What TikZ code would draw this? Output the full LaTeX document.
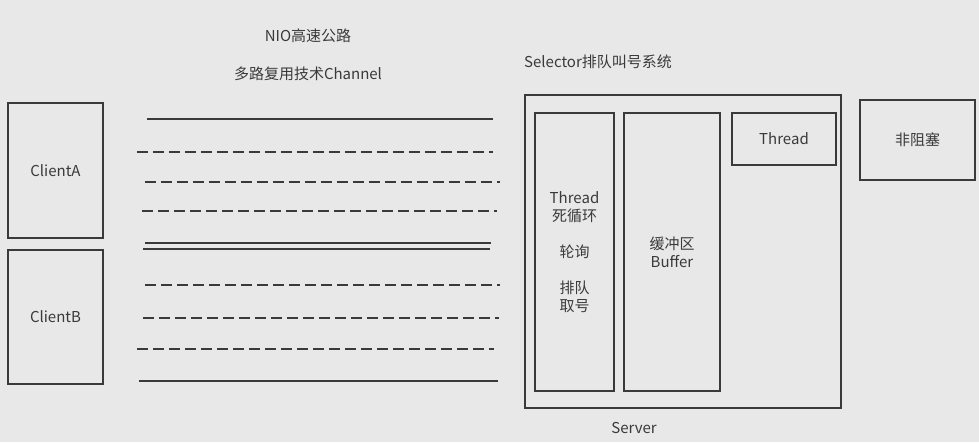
\documentclass[tikz,border=0pt]{standalone}
\usepackage{fontspec}
\setmainfont{Noto Sans CJK SC}
\usepackage{xcolor}
\usepackage{tikz}
\usetikzlibrary{positioning,calc}
\definecolor{bgGrey}{HTML}{E8E8E8}
\definecolor{inkGrey}{HTML}{3A3A3A}
\tikzset{
    box/.style={draw=inkGrey, line width=1.6pt},
    lane/.style={draw=inkGrey, line width=1.8pt},
    dashlane/.style={lane, dash pattern=on 11pt off 5pt},
    lbl/.style={text=inkGrey, font=\fontsize{15}{18}\selectfont, align=center, inner sep=0pt}
}
\begin{document}
\begin{tikzpicture}[x=1pt,y=-1pt]
    % Background
    \fill[bgGrey] (0,0) rectangle (979,442);
    \useasboundingbox (0,0) rectangle (979,442);

    % Titles
    \node[lbl] (nioTitle) at (308,36) {NIO高速公路};
    \node[lbl] (channelTitle) at (308,74) {多路复用技术Channel};
    \node[lbl] (selectorTitle) at (598,62) {Selector排队叫号系统};

    % Clients
    \draw[box] (8,103) rectangle (103,238) node[midway, lbl] (clientA) {ClientA};
    \draw[box] (8,250) rectangle (103,384) node[midway, lbl] (clientB) {ClientB};

    % Channels
    \draw[lane] (147,119) -- (493,119);
    \foreach \y/\a/\b in {152/137/493, 182/145/500, 211/142/497, 285/145/500, 318/143/499, 349/137/494}
        \draw[dashlane] (\a,\y) -- (\b,\y);
    \draw[lane] (145,243) -- (491,243);
    \draw[lane] (143,249) -- (490,249);
    \draw[lane] (139,381) -- (498,381);

    % Server
    \draw[box] (525,95) rectangle (841,408);
    \node[lbl] (server) at (634,428) {Server};
    \draw[box] (535,113) rectangle (614,391) node[midway, lbl] (loopThread)
        {Thread\\死循环\\[18pt]轮询\\[18pt]排队\\取号};
    \draw[box] (624,113) rectangle (720,391) node[midway, lbl] (buffer) {缓冲区\\Buffer};
    \draw[box] (732,113) rectangle (836,165) node[midway, lbl] (thread) {Thread};

    % Non-blocking
    \draw[box] (860,100) rectangle (975,180) node[midway, lbl] (nonBlock) {非阻塞};
\end{tikzpicture}
\end{document}
